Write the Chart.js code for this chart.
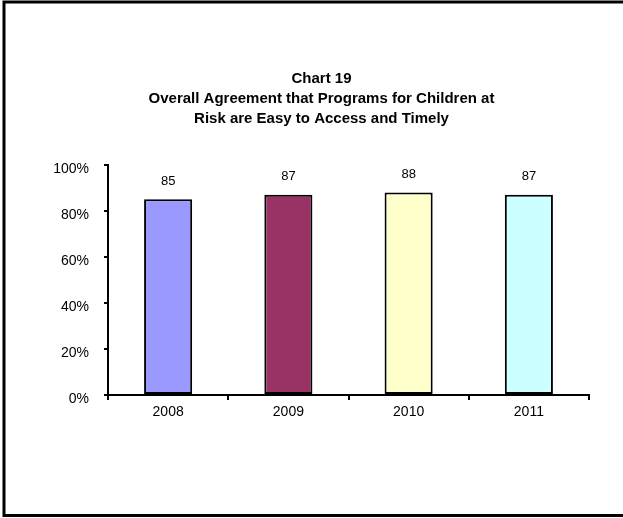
<!DOCTYPE html>
<html>
<head>
<meta charset="utf-8">
<script src="https://cdn.jsdelivr.net/npm/chart.js@4"></script>
<style>
    body { margin: 0; background: #ffffff; }
    canvas { display: block; }
</style>
</head>
<body>
<canvas id="chart19" width="623" height="518"></canvas>
<script>
const years = ['2008', '2009', '2010', '2011'];
const agreement = [85, 87, 88, 87];
const barColors = ['#9999FF', '#993366', '#FFFFCC', '#CCFFFF'];
const titleLines = ['Chart 19', 'Overall Agreement that Programs for Children at', 'Risk are Easy to Access and Timely'];

const FONT = "'Liberation Sans', Arial, sans-serif";

// frame around the whole picture (no right edge visible in the original)
const framePlugin = {
    id: 'frame',
    beforeDraw(chart) {
        const ctx = chart.ctx;
        ctx.save();
        ctx.fillStyle = '#ffffff';
        ctx.fillRect(0, 0, chart.width, chart.height);
        ctx.strokeStyle = '#000000';
        ctx.lineWidth = 3;
        ctx.beginPath();
        ctx.moveTo(chart.width, 2);
        ctx.lineTo(4, 2);
        ctx.lineTo(4, 515.5);
        ctx.lineTo(chart.width, 515.5);
        ctx.stroke();
        ctx.restore();
    }
};

// numbers above the bars
const valueLabels = {
    id: 'valueLabels',
    afterDatasetsDraw(chart) {
        const ctx = chart.ctx;
        const meta = chart.getDatasetMeta(0);
        ctx.save();
        ctx.fillStyle = '#000000';
        ctx.font = '13px ' + FONT;
        ctx.textAlign = 'center';
        ctx.textBaseline = 'middle';
        meta.data.forEach((bar, i) => {
            ctx.fillText(String(agreement[i]), bar.x, bar.y - 18);
        });
        ctx.restore();
    }
};

new Chart(document.getElementById('chart19'), {
    type: 'bar',
    data: {
        labels: years,
        datasets: [{
            data: agreement,
            backgroundColor: barColors,
            borderColor: '#000000',
            borderWidth: 2,
            borderSkipped: false,
            barPercentage: 0.4,
            categoryPercentage: 1
        }]
    },
    options: {
        responsive: false,
        animation: false,
        layout: {
            padding: {left: 54, right: 34, top: 69, bottom: 93}
        },
        plugins: {
            legend: {display: false},
            tooltip: {enabled: false},
            title: {
                display: true,
                text: titleLines,
                color: '#000000',
                font: {family: FONT, size: 15, weight: 'bold', lineHeight: 1.33},
                padding: {top: 0, bottom: 36}
            }
        },
        scales: {
            x: {
                afterFit(scale) { scale.height = 30; },
                border: {display: true, color: '#000000', width: 2},
                grid: {display: true, drawOnChartArea: false, drawTicks: true, tickLength: 5, color: '#000000', lineWidth: 2},
                ticks: {color: '#000000', font: {family: FONT, size: 14}, padding: 4}
            },
            y: {
                min: 0,
                max: 100,
                afterFit(scale) { scale.width = 54; },
                border: {display: true, color: '#000000', width: 2},
                grid: {display: true, drawOnChartArea: false, drawTicks: true, tickLength: 4, color: '#000000', lineWidth: 2},
                ticks: {
                    stepSize: 20,
                    color: '#000000',
                    font: {family: FONT, size: 14},
                    padding: 15,
                    labelOffset: 4,
                    callback: v => v + '%'
                }
            }
        }
    },
    plugins: [framePlugin, valueLabels]
});
</script>
</body>
</html>
